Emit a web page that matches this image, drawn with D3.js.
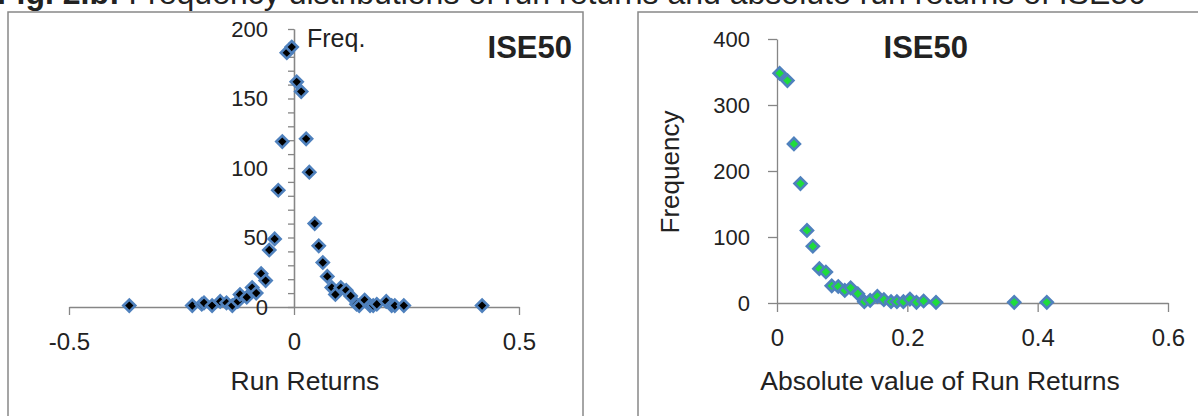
<!DOCTYPE html>
<html><head><meta charset="utf-8">
<script src="https://cdn.jsdelivr.net/npm/d3@7"></script>
<style>
html,body{margin:0;padding:0;background:#fff;overflow:hidden;}
text{font-family:"Liberation Sans",Arial,sans-serif;fill:#222;}
</style></head>
<body>
<svg id="c" width="1198" height="416"></svg>
<script>
// ---- data ----
const runReturns = [-0.366,-0.226,-0.205,-0.200,-0.182,-0.164,-0.150,-0.137,-0.125,-0.120,-0.105,-0.093,-0.084,-0.073,-0.063,-0.055,-0.043,-0.035,-0.026,-0.016,-0.005,0.006,0.016,0.027,0.034,0.046,0.055,0.064,0.074,0.084,0.092,0.104,0.116,0.126,0.139,0.145,0.157,0.169,0.176,0.184,0.205,0.217,0.224,0.244,0.418];
const runFreq    = [1,1,2,3,1,4,3,1,4,9,7,14,10,24,19,41,49,84,119,183,187,162,155,121,97,60,44,32,22,14,9,14,12,8,2,1,5,1,1,2,4,1,1,1,1];
const absReturns = [0.004,0.016,0.026,0.036,0.046,0.055,0.065,0.075,0.084,0.094,0.104,0.113,0.124,0.134,0.143,0.154,0.164,0.175,0.184,0.194,0.204,0.214,0.225,0.244,0.364,0.414];
const absFreq    = [348,337,241,181,110,86,52,47,26,25,19,23,14,2,4,10,5,2,2,2,6,1,3,1,1,1];
const leftXTicks = [-0.5,0,0.5];
const leftYTicks = [0,50,100,150,200];
const rightXTicks = [0,0.2,0.4,0.6];
const rightYTicks = [0,100,200,300,400];
const caption = ["Fig. 2.b:", " Frequency distributions of run returns and absolute run returns of ISE50"];
const chartTitle = "ISE50";

const svg = d3.select("#c");
const axisColor = "#868686";
const markerStroke = "#4F81BD";

// caption (cut off at top, as in the reference)
const cap = svg.append("text").attr("x",-3).attr("y",4).style("font-size","32px");
cap.append("tspan").style("font-weight","bold").text(caption[0]);
cap.append("tspan").text(caption[1]);

// frames
svg.append("rect").attr("x",8).attr("y",12).attr("width",575).attr("height",420)
  .attr("fill","none").attr("stroke","#888").attr("stroke-width",1.5);
svg.append("rect").attr("x",638).attr("y",12).attr("width",600).attr("height",420)
  .attr("fill","none").attr("stroke","#888").attr("stroke-width",1.5);

const diamond = d3.symbol().type(d3.symbolSquare).size(72);

function styleAxis(size){
  return g => {
    g.select(".domain").attr("stroke",axisColor).attr("stroke-width",1.3);
    g.selectAll(".tick line").attr("stroke",axisColor).attr("stroke-width",1.3);
    g.selectAll(".tick text").style("font-size",size+"px").attr("fill","#222")
      .style("font-family","'Liberation Sans',Arial,sans-serif");
  };
}

// ---- left chart ----
const xL = d3.scaleLinear().domain([-0.5,0.5]).range([69,519]);
const yL = d3.scaleLinear().domain([0,200]).range([307,29]);
const fmt = d => d===0 ? "0" : String(d);

svg.append("g").attr("transform",`translate(0,${yL(0)})`)
  .call(d3.axisBottom(xL).tickValues(leftXTicks).tickFormat(fmt).tickSize(8).tickPadding(18).tickSizeOuter(0))
  .call(styleAxis(24));
const minor = d3.range(10,200,10).filter(v=>v%50!==0);
svg.append("g").attr("transform",`translate(${xL(0)},0)`)
  .call(d3.axisLeft(yL).tickValues(minor).tickFormat("").tickSize(6).tickSizeOuter(0))
  .call(styleAxis(22));
svg.append("g").attr("transform",`translate(${xL(0)},0)`)
  .call(d3.axisLeft(yL).tickValues(leftYTicks).tickFormat(fmt).tickSize(6).tickPadding(20).tickSizeOuter(0))
  .call(styleAxis(22));

svg.append("text").attr("x",307).attr("y",47).style("font-size","25px").text("Freq.");
svg.append("text").attr("x",572).attr("y",58).attr("text-anchor","end")
  .style("font-size","31px").style("font-weight","bold").text(chartTitle);
svg.append("text").attr("x",305).attr("y",390).attr("text-anchor","middle")
  .style("font-size","26.5px").text("Run Returns");

svg.append("g").selectAll("path").data(runReturns).join("path")
  .attr("d",diamond)
  .attr("transform",(d,i)=>`translate(${xL(d)},${yL(runFreq[i])}) rotate(45)`)
  .attr("fill","#000").attr("stroke",markerStroke).attr("stroke-width",2.6);

// ---- right chart ----
const xR = d3.scaleLinear().domain([0,0.6]).range([777,1168]);
const yR = d3.scaleLinear().domain([0,400]).range([303,39]);

svg.append("g").attr("transform",`translate(0,${yR(0)})`)
  .call(d3.axisBottom(xR).tickValues(rightXTicks).tickFormat(fmt).tickSize(9).tickPadding(17).tickSizeOuter(0))
  .call(styleAxis(24));
svg.append("g").attr("transform",`translate(${xR(0)},0)`)
  .call(d3.axisLeft(yR).tickValues(rightYTicks).tickFormat(fmt).tickSize(9).tickPadding(18).tickSizeOuter(0))
  .call(styleAxis(22));

svg.append("text").attr("x",968).attr("y",58).attr("text-anchor","end")
  .style("font-size","31px").style("font-weight","bold").text(chartTitle);
svg.append("text").attr("x",940).attr("y",390).attr("text-anchor","middle")
  .style("font-size","26.5px").text("Absolute value of Run Returns");
svg.append("text").attr("transform","translate(679,172) rotate(-90)").attr("text-anchor","middle")
  .style("font-size","26px").text("Frequency");

svg.append("g").selectAll("path").data(absReturns).join("path")
  .attr("d",diamond)
  .attr("transform",(d,i)=>`translate(${xR(d)},${yR(absFreq[i])}) rotate(45)`)
  .attr("fill","#1EDC3C").attr("stroke",markerStroke).attr("stroke-width",2.6);
</script>
</body></html>
